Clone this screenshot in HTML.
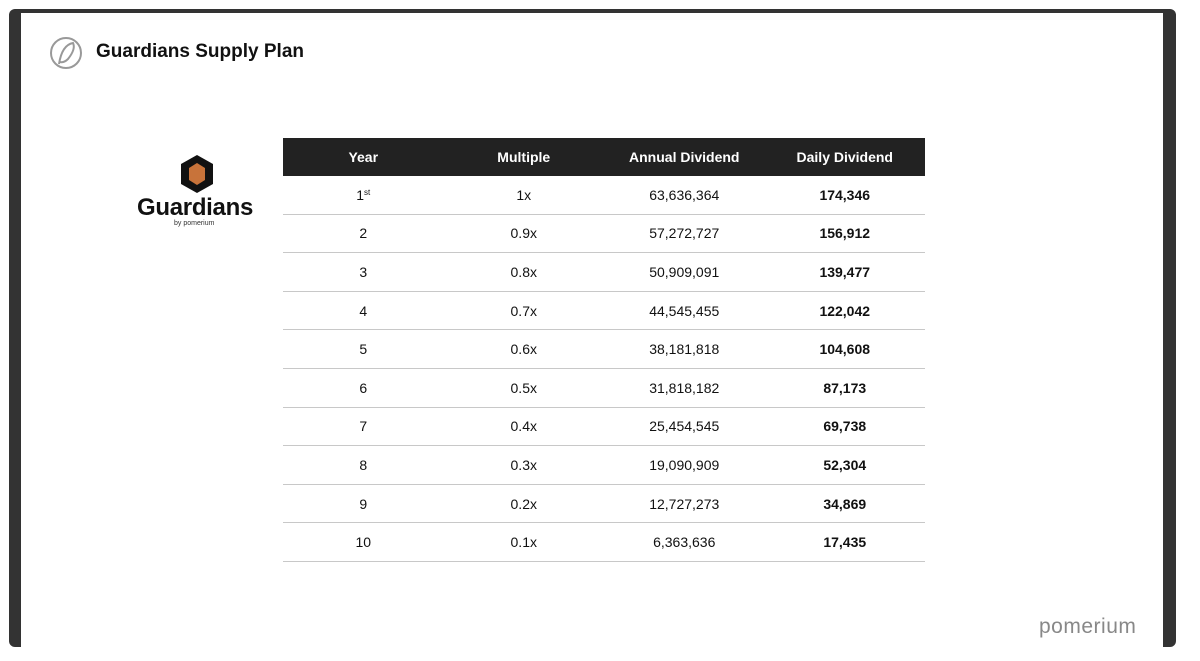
<!DOCTYPE html>
<html><head><meta charset="utf-8"><style>
body{margin:0;width:1200px;height:661px;background:#fff;position:relative;overflow:hidden;font-family:"Liberation Sans",Arial,sans-serif}
#frame{position:absolute;left:9px;top:9px;width:1167px;height:638px;background:#333;border-radius:6px 6px 6px 6px}
#inner{position:absolute;left:21px;top:13px;width:1142px;height:634px;background:#fff}
#title{position:absolute;left:96px;top:41px;font-size:19px;font-weight:bold;color:#111}
table{position:absolute;left:283px;top:138px;width:642px;border-collapse:collapse;font-size:14px;color:#111}
th{background:#222;color:#fff;height:38px;font-weight:bold;width:25%;padding:0}
td{height:37.6px;text-align:center;border-bottom:1.6px solid #c8c8c8;padding:0}
td.b{font-weight:bold}
sup{font-size:8px;vertical-align:5px}
#pom{position:absolute;left:1039px;top:615px;font-size:21px;color:#888;letter-spacing:0.5px}
#glabel{position:absolute;left:137px;top:194px;font-size:24px;font-weight:bold;color:#111;letter-spacing:-0.3px}
#gby{position:absolute;left:174px;top:220px;font-size:7px;color:#333}
</style></head><body>
<div id="frame"></div>
<div id="inner"></div>
<svg style="position:absolute;left:48px;top:35px" width="36" height="36">
<circle cx="18" cy="18" r="15" fill="none" stroke="#999" stroke-width="2"/>
<path d="M11 29 Q14 10 25 8 Q28 14 20 24 Q16 28 12 27" fill="none" stroke="#999" stroke-width="2"/>
</svg>
<div id="title">Guardians Supply Plan</div>
<svg style="position:absolute;left:179px;top:154px" width="36" height="40">
<polygon points="18,1 34,10 34,30 18,39 2,30 2,10" fill="#111"/>
<polygon points="18,9 26,14 26,26 18,31 10,26 10,14" fill="#c8733a"/>
</svg>
<div id="glabel">Guardians</div>
<div id="gby">by pomerium</div>
<table>
<tr><th>Year</th><th>Multiple</th><th>Annual Dividend</th><th>Daily Dividend</th></tr>
<tr><td>1<sup>st</sup></td><td>1x</td><td>63,636,364</td><td class="b">174,346</td></tr>
<tr><td>2</td><td>0.9x</td><td>57,272,727</td><td class="b">156,912</td></tr>
<tr><td>3</td><td>0.8x</td><td>50,909,091</td><td class="b">139,477</td></tr>
<tr><td>4</td><td>0.7x</td><td>44,545,455</td><td class="b">122,042</td></tr>
<tr><td>5</td><td>0.6x</td><td>38,181,818</td><td class="b">104,608</td></tr>
<tr><td>6</td><td>0.5x</td><td>31,818,182</td><td class="b">87,173</td></tr>
<tr><td>7</td><td>0.4x</td><td>25,454,545</td><td class="b">69,738</td></tr>
<tr><td>8</td><td>0.3x</td><td>19,090,909</td><td class="b">52,304</td></tr>
<tr><td>9</td><td>0.2x</td><td>12,727,273</td><td class="b">34,869</td></tr>
<tr><td>10</td><td>0.1x</td><td>6,363,636</td><td class="b">17,435</td></tr>
</table>
<div id="pom">pomerium</div>
</body></html>
